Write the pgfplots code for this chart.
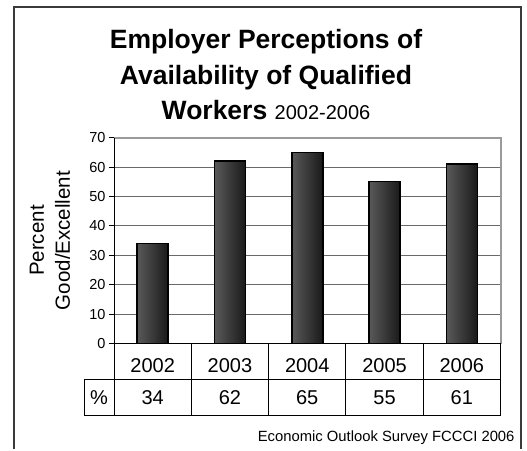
\documentclass[border=0pt]{standalone}
\usepackage{pgfplots}
\pgfplotsset{compat=1.18}
\usepackage{pgfplotstable}
\usepackage{fontspec}
\setmainfont{Liberation Sans}

\definecolor{framegray}{HTML}{3A3A3A}
\definecolor{wallgray}{HTML}{9A9A9A}
\definecolor{gridgray}{HTML}{6A6A6A}

% survey results, percent rating availability good/excellent
\pgfplotstableread{
x year pct
0 2002 34
1 2003 62
2 2004 65
3 2005 55
4 2006 61
}\survey

\begin{document}
\begin{tikzpicture}[x=1pt,y=1pt]
  % page size = reference size (1pt per px), y runs downward as -py
  \path (0,0) rectangle (527,-449);
  % outer frame, open at the bottom
  \draw[framegray, line width=2pt] (13.5,-449) -- (13.5,-6.5) -- (521,-6.5) -- (521,-449);

  % title
  \node[anchor=base, font=\bfseries\fontsize{26.5}{30}\selectfont] at (266,-48) {Employer Perceptions of};
  \node[anchor=base, font=\bfseries\fontsize{26.5}{30}\selectfont] at (266,-84) {Availability of Qualified};
  \node[anchor=base] at (266,-119) {\fontsize{26.5}{30}\selectfont\bfseries Workers\ \mdseries\fontsize{20}{24}\selectfont 2002-2006};

  \begin{axis}[
    scale only axis,
    width=386.5pt, height=206pt,
    at={(114pt,-343.6pt)}, anchor=south west,
    xmin=-0.5, xmax=4.5,
    ymin=0, ymax=70,
    ytick={0,10,...,70},
    xtick={0,1,2,3,4},
    xticklabels={2002,2003,2004,2005,2006},
    major x tick style={draw=none},
    xticklabel style={anchor=center, yshift=-17pt, font=\fontsize{20}{24}\selectfont},
    yticklabel style={font=\fontsize{14.5}{17}\selectfont},
    /pgf/number format/assume math mode=true,
    tick pos=left,
    tick align=outside,
    major tick length=5pt,
    major y tick style={black, line width=0.8pt},
    axis line style={draw=none},
    ymajorgrids=true,
    grid style={gridgray, line width=0.9pt},
    ylabel={Percent\\Good/Excellent},
    ylabel style={align=center, font=\fontsize{20.5}{26}\selectfont,
                  at={(rel axis cs:0,0.5)}, anchor=center, yshift=64pt},
    clip=false,
  ]
    % plot wall edges
    \draw[wallgray, line width=2pt] (rel axis cs:0,1) -- (rel axis cs:1,1) -- (rel axis cs:1,0);
    % bars, one plot each so every bar gets its own shading
    \pgfplotsinvokeforeach{0,...,4}{
      \addplot[ybar, bar width=31pt, draw=black, line width=1.5pt,
               left color=black!65, right color=black!90,
               restrict x to domain=#1:#1]
        table[x=x, y=pct] {\survey};
    }
    % axis lines
    \draw[black, line width=1pt] (rel axis cs:0,1) -- (rel axis cs:0,0) -- (rel axis cs:1,0);
    % data table row of values
    \addplot[draw=none, mark=none, nodes near coords, point meta=explicit,
             every node near coord/.append style={anchor=center, font=\fontsize{20}{24}\selectfont}]
      table[x=x, y expr=-18.31, meta=pct] {\survey};
  \end{axis}

  % data table grid
  \begin{scope}[black, line width=1pt]
    \draw (84,-379.5) -- (500.5,-379.5);
    \draw (84,-415) -- (500.5,-415);
    \draw (84,-379.5) -- (84,-415);
    \foreach \xx in {114,191.3,268.6,345.9,423.2,500.5}
      \draw (\xx,-343.6) -- (\xx,-415);
  \end{scope}
  \node[font=\fontsize{20}{24}\selectfont] at (99,-397.5) {\%};

  % source
  \node[anchor=base east, font=\fontsize{14.8}{17}\selectfont] at (518,-441) {Economic Outlook Survey FCCCI 2006};
\end{tikzpicture}
\end{document}
